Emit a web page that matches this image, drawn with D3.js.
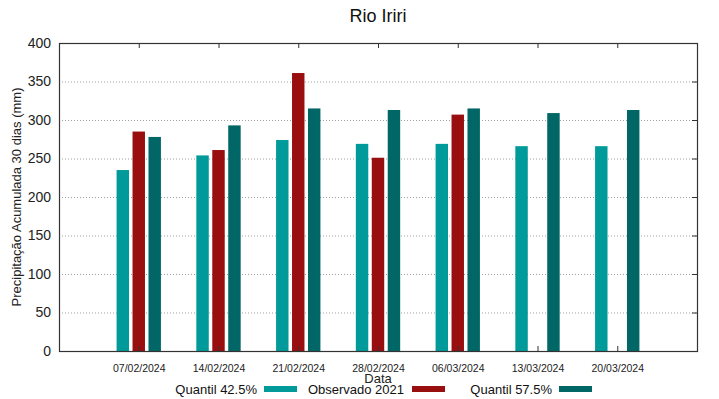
<!DOCTYPE html>
<html lang="pt">
<head>
<meta charset="utf-8">
<title>Rio Iriri</title>
<script src="https://d3js.org/d3.v7.min.js"></script>
<style>
  body { margin: 0; background: #fff; font-family: "Liberation Sans", Arial, sans-serif; }
  .grid line { stroke: #a0a0a0; stroke-dasharray: 1,2; stroke-width: 1; }
</style>
</head>
<body>
<div id="chart"></div>
<script>
// data
const dates = ["07/02/2024", "14/02/2024", "21/02/2024", "28/02/2024", "06/03/2024", "13/03/2024", "20/03/2024"];
const quantil425 = [235, 254, 274, 269, 269, 266, 266];
const observado = [285, 261, 361, 251, 307, null, null];
const quantil575 = [278, 293, 315, 313, 315, 309, 313];
const yTicks = [0, 50, 100, 150, 200, 250, 300, 350, 400];

const series = [
  {name: "Quantil 42.5%", values: quantil425, color: "#009a9a", off: -1},
  {name: "Observado 2021", values: observado, color: "#990f0f", off: 0},
  {name: "Quantil 57.5%", values: quantil575, color: "#006666", off: 1}
];

const W = 719, H = 399;
const margin = {top: 43, right: 22, bottom: 48, left: 59};
const width = W - margin.left - margin.right,
      height = H - margin.top - margin.bottom;

const svg = d3.select("#chart").append("svg")
    .attr("width", W).attr("height", H);

const g = svg.append("g")
    .attr("transform", `translate(${margin.left},${margin.top})`);

const x = d3.scaleLinear().domain([-1, dates.length]).range([0, width]);
const y = d3.scaleLinear().domain([0, 400]).range([height, 0]);

const barW = 0.156, step = 0.2;

// horizontal grid
g.append("g").attr("class", "grid")
  .selectAll("line")
  .data(yTicks.filter(t => t > 0 && t < 400))
  .join("line")
    .attr("x1", 0).attr("x2", width)
    .attr("y1", d => y(d) + 0.5).attr("y2", d => y(d) + 0.5);

// bars
series.forEach(s => {
  g.append("g").selectAll("rect")
    .data(s.values.map((v, i) => ({i, v})).filter(d => d.v != null))
    .join("rect")
      .attr("x", d => x(d.i + s.off * step - barW / 2))
      .attr("width", x(barW) - x(0))
      .attr("y", d => y(d.v))
      .attr("height", d => y(0) - y(d.v))
      .attr("fill", s.color);
});

// frame
g.append("rect")
  .attr("x", 0.5).attr("y", 0.5)
  .attr("width", width).attr("height", height)
  .attr("fill", "none").attr("stroke", "#333").attr("stroke-width", 1.2);

// y axis (ticks inward, mirrored on right)
const yAxis = g.append("g")
  .call(d3.axisLeft(y).tickValues(yTicks).tickSize(0).tickPadding(8));
yAxis.select(".domain").remove();
yAxis.selectAll("text").attr("font-size", 14).attr("font-family", "Liberation Sans, Arial, sans-serif").attr("fill", "#222");
g.append("g").selectAll("line")
  .data(yTicks.slice(1, -1))
  .join("line")
    .attr("x1", width - 5).attr("x2", width)
    .attr("y1", d => y(d) + 0.5).attr("y2", d => y(d) + 0.5)
    .attr("stroke", "#333");

// x axis
const xAxis = g.append("g")
  .attr("transform", `translate(0,${height})`)
  .call(d3.axisBottom(x).tickValues(d3.range(dates.length))
    .tickFormat(i => dates[i]).tickSize(0).tickPadding(14));
xAxis.select(".domain").remove();
xAxis.selectAll("text").attr("font-size", 10.5).attr("font-family", "Liberation Sans, Arial, sans-serif").attr("fill", "#222");
// inward tick marks top and bottom
g.append("g").selectAll("line")
  .data(d3.range(dates.length))
  .join("line")
    .attr("x1", d => x(d) + 0.5).attr("x2", d => x(d) + 0.5)
    .attr("y1", 0).attr("y2", 5)
    .attr("stroke", "#333");
g.append("g").selectAll("line")
  .data(d3.range(dates.length))
  .join("line")
    .attr("x1", d => x(d) + 0.5).attr("x2", d => x(d) + 0.5)
    .attr("y1", height - 5).attr("y2", height)
    .attr("stroke", "#333");

// title and labels
svg.append("text")
  .attr("x", 378).attr("y", 22)
  .attr("text-anchor", "middle")
  .attr("font-size", 18).attr("fill", "#111")
  .text("Rio Iriri");

svg.append("text")
  .attr("transform", `translate(21,${margin.top + height / 2}) rotate(-90)`)
  .attr("text-anchor", "middle")
  .attr("font-size", 13).attr("fill", "#222")
  .text("Precipitação Acumulada 30 dias (mm)");

svg.append("text")
  .attr("x", 378).attr("y", 383)
  .attr("text-anchor", "middle")
  .attr("font-size", 13).attr("fill", "#222")
  .text("Data");

// legend
const legendPos = [
  {textEnd: 257, sw: 264},
  {textEnd: 404, sw: 412},
  {textEnd: 552, sw: 559}
];
series.forEach((s, i) => {
  const p = legendPos[i];
  svg.append("text")
    .attr("x", p.textEnd).attr("y", 394)
    .attr("text-anchor", "end")
    .attr("font-size", 13).attr("fill", "#111")
    .text(s.name);
  svg.append("rect")
    .attr("x", p.sw).attr("y", 386)
    .attr("width", 33).attr("height", 6)
    .attr("fill", s.color);
});
</script>
</body>
</html>
